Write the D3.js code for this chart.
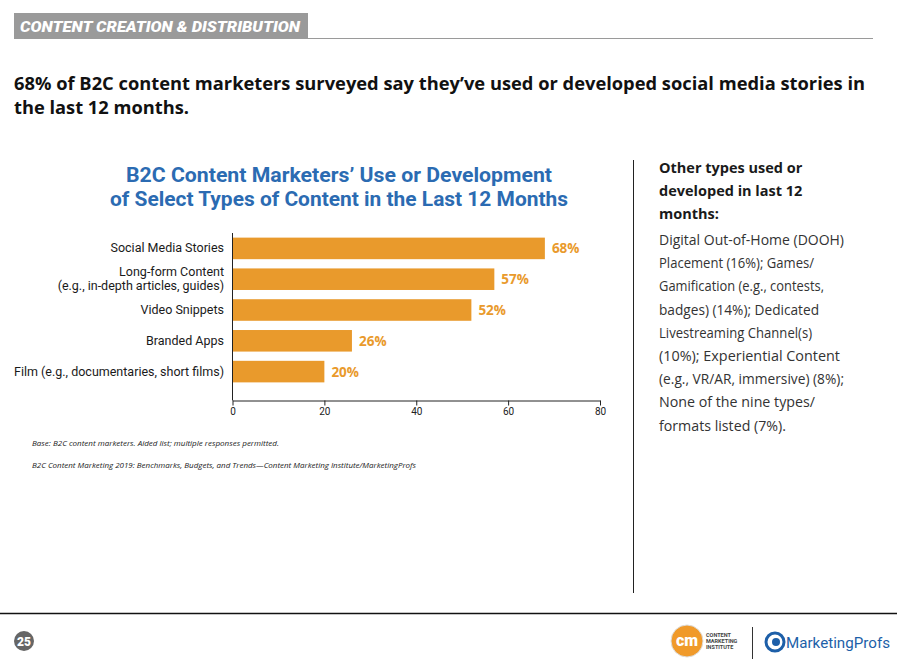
<!DOCTYPE html>
<html><head><meta charset="utf-8">
<script src="https://cdn.jsdelivr.net/npm/d3@7"></script>
<style>body{margin:0;background:#fff}svg{display:block}</style>
</head><body><svg id="c" width="897" height="662"></svg>
<script>
const categories = [
  ["Social Media Stories"],
  ["Long-form Content", "(e.g., in-depth articles, guides)"],
  ["Video Snippets"],
  ["Branded Apps"],
  ["Film (e.g., documentaries, short films)"]
];
const values = [68, 57, 52, 26, 20];
const xTicks = [0, 20, 40, 60, 80];
const chartTitle = ["B2C Content Marketers’ Use or Development", "of Select Types of Content in the Last 12 Months"];
const headline = ["68% of B2C content marketers surveyed say they’ve used or developed social media stories in", "the last 12 months."];
const sideBold = ["Other types used or", "developed in last 12", "months:"];
const sideText = ["Digital Out-of-Home (DOOH)", "Placement (16%); Games/", "Gamification (e.g., contests,", "badges) (14%); Dedicated", "Livestreaming Channel(s)", "(10%); Experiential Content", "(e.g., VR/AR, immersive) (8%);", "None of the nine types/", "formats listed (7%)."];
const notes = ["Base: B2C content marketers. Aided list; multiple responses permitted.", "B2C Content Marketing 2019: Benchmarks, Budgets, and Trends—Content Marketing Institute/MarketingProfs"];

const svg = d3.select("#c");
const ORANGE = "#E99A2C";
const sans = "'Open Sans', 'Noto Sans', sans-serif";
const cond = "Roboto, 'Liberation Sans Narrow', sans-serif";

function fit(sel, w) {
  sel.each(function(){ const L = this.getComputedTextLength(); if (L > 0) d3.select(this).attr("textLength", w).attr("lengthAdjust", "spacingAndGlyphs"); });
}

// header
svg.append("rect").attr("x", 14).attr("y", 13).attr("width", 294).attr("height", 26).attr("fill", "#9a9a9a");
svg.append("line").attr("x1", 308).attr("x2", 873).attr("y1", 38.5).attr("y2", 38.5).attr("stroke", "#9a9a9a").attr("stroke-width", 1);
svg.append("text").attr("x", 20).attr("y", 31.5).text("CONTENT CREATION & DISTRIBUTION")
  .attr("fill", "#fff").attr("font-family", "Roboto, sans-serif").attr("font-weight", 900).attr("font-style", "italic").attr("font-size", 15.5)
  .call(fit, 280);

// headline
svg.selectAll("text.hl").data(headline).join("text").attr("class", "hl")
  .attr("x", 14).attr("y", (d, i) => 90 + i * 24).text(d => d)
  .attr("font-family", sans).attr("font-weight", 700).attr("font-size", 18.5).attr("fill", "#111")
  .each(function(d, i){ if (i === 0) d3.select(this).call(fit, 851); if (i === 1) d3.select(this).call(fit, 175); });

// chart title
svg.selectAll("text.ct").data(chartTitle).join("text").attr("class", "ct")
  .attr("x", 339).attr("y", (d, i) => 182 + i * 24).attr("text-anchor", "middle").text(d => d)
  .attr("font-family", cond).attr("font-weight", 700).attr("font-size", 21).attr("fill", "#2B6BB2")
  .each(function(d, i){ d3.select(this).call(fit, i === 0 ? 426 : 458); });

// chart
const x = d3.scaleLinear().domain([0, 80]).range([232.5, 600]);
const y = d3.scaleBand().domain(d3.range(values.length)).range([233, 387]).paddingInner(0.3).paddingOuter(0.15);

const g = svg.append("g");
g.selectAll("rect.bar").data(values).join("rect").attr("class", "bar")
  .attr("x", x(0)).attr("y", (d, i) => y(i)).attr("width", d => x(d) - x(0)).attr("height", y.bandwidth()).attr("fill", ORANGE);

g.selectAll("text.val").data(values).join("text").attr("class", "val")
  .attr("x", d => x(d) + 7).attr("y", (d, i) => y(i) + y.bandwidth() / 2 + 5).text(d => d + "%")
  .attr("font-family", sans).attr("font-weight", 700).attr("font-size", 13.5).attr("fill", ORANGE);

const lab = g.selectAll("text.cat").data(categories).join("text").attr("class", "cat")
  .attr("text-anchor", "end").attr("font-family", cond).attr("font-size", 12.5).attr("fill", "#1a1a1a");
lab.each(function(d, i){
  const t = d3.select(this);
  const cy = y(i) + y.bandwidth() / 2;
  d.forEach((s, k) => {
    t.append("tspan").attr("x", 224).attr("y", cy + 4 + (k - (d.length - 1) / 2) * 14).text(s);
  });
});

// axes
const ax = d3.axisBottom(x).tickValues(xTicks).tickSize(5).tickSizeOuter(0);
const axg = svg.append("g").attr("transform", "translate(0,400.5)").call(ax);
axg.select(".domain").attr("stroke", "#222");
axg.selectAll(".tick line").attr("stroke", "#222");
axg.selectAll(".tick text").attr("font-family", cond).attr("font-size", 10).attr("fill", "#222").attr("dy", "0.6em");
svg.append("line").attr("x1", 232.5).attr("x2", 232.5).attr("y1", 233).attr("y2", 400.5).attr("stroke", "#222");

// notes
svg.selectAll("text.note").data(notes).join("text").attr("class", "note")
  .attr("x", 32).attr("y", (d, i) => 446 + i * 22).text(d => d)
  .attr("font-family", sans).attr("font-style", "italic").attr("font-size", 6.8).attr("fill", "#222")
  .each(function(d, i){ d3.select(this).call(fit, i === 0 ? 247 : 384); });

// side panel
svg.append("line").attr("x1", 633.5).attr("x2", 633.5).attr("y1", 160).attr("y2", 593).attr("stroke", "#222");
svg.selectAll("text.sb").data(sideBold).join("text").attr("class", "sb")
  .attr("x", 659).attr("y", (d, i) => 173 + i * 23).text(d => d)
  .attr("font-family", sans).attr("font-weight", 700).attr("font-size", 14.5).attr("fill", "#1a1a1a");
const sideW = [185, 155, 165, 160, 153, 181, 185, 156, 127];
svg.selectAll("text.st").data(sideText).join("text").attr("class", "st")
  .attr("x", 659).attr("y", (d, i) => 245 + i * 23.2).text(d => d)
  .attr("font-family", sans).attr("font-size", 14.5).attr("fill", "#333")
  .each(function(d, i){ d3.select(this).call(fit, sideW[i]); });

// footer
svg.append("line").attr("x1", 0).attr("x2", 897).attr("y1", 613.5).attr("y2", 613.5).attr("stroke", "#111").attr("stroke-width", 1.3);
svg.append("circle").attr("cx", 24).attr("cy", 641).attr("r", 10).attr("fill", "#666");
svg.append("text").attr("x", 24).attr("y", 645.5).attr("text-anchor", "middle").text("25")
  .attr("font-family", "Roboto, sans-serif").attr("font-weight", 900).attr("font-size", 12).attr("fill", "#fff");
// CMI logo
svg.append("circle").attr("cx", 687).attr("cy", 641).attr("r", 16).attr("fill", "#F09A2A").attr("stroke", "#ddd").attr("stroke-width", 1);
svg.append("text").attr("x", 687).attr("y", 646).attr("text-anchor", "middle").text("cm")
  .attr("font-family", "Roboto, sans-serif").attr("font-weight", 900).attr("font-size", 16).attr("fill", "#fff");
["CONTENT", "MARKETING", "INSTITUTE"].forEach((s, i) => svg.append("text").attr("x", 706).attr("y", 637 + i * 6).text(s)
  .attr("font-family", "Roboto, sans-serif").attr("font-weight", 700).attr("font-size", 5.5).attr("fill", "#444"));
svg.append("line").attr("x1", 752.5).attr("x2", 752.5).attr("y1", 627).attr("y2", 659).attr("stroke", "#333");
svg.append("circle").attr("cx", 775).attr("cy", 642).attr("r", 9).attr("fill", "#fff").attr("stroke", "#1d5fa8").attr("stroke-width", 3);
svg.append("circle").attr("cx", 776).attr("cy", 642).attr("r", 4).attr("fill", "#1d5fa8");
svg.append("text").attr("x", 786).attr("y", 648).text("MarketingProfs")
  .attr("font-family", "Roboto, sans-serif").attr("font-size", 15.5).attr("fill", "#1d5fa8").call(fit, 104);
</script></body></html>
